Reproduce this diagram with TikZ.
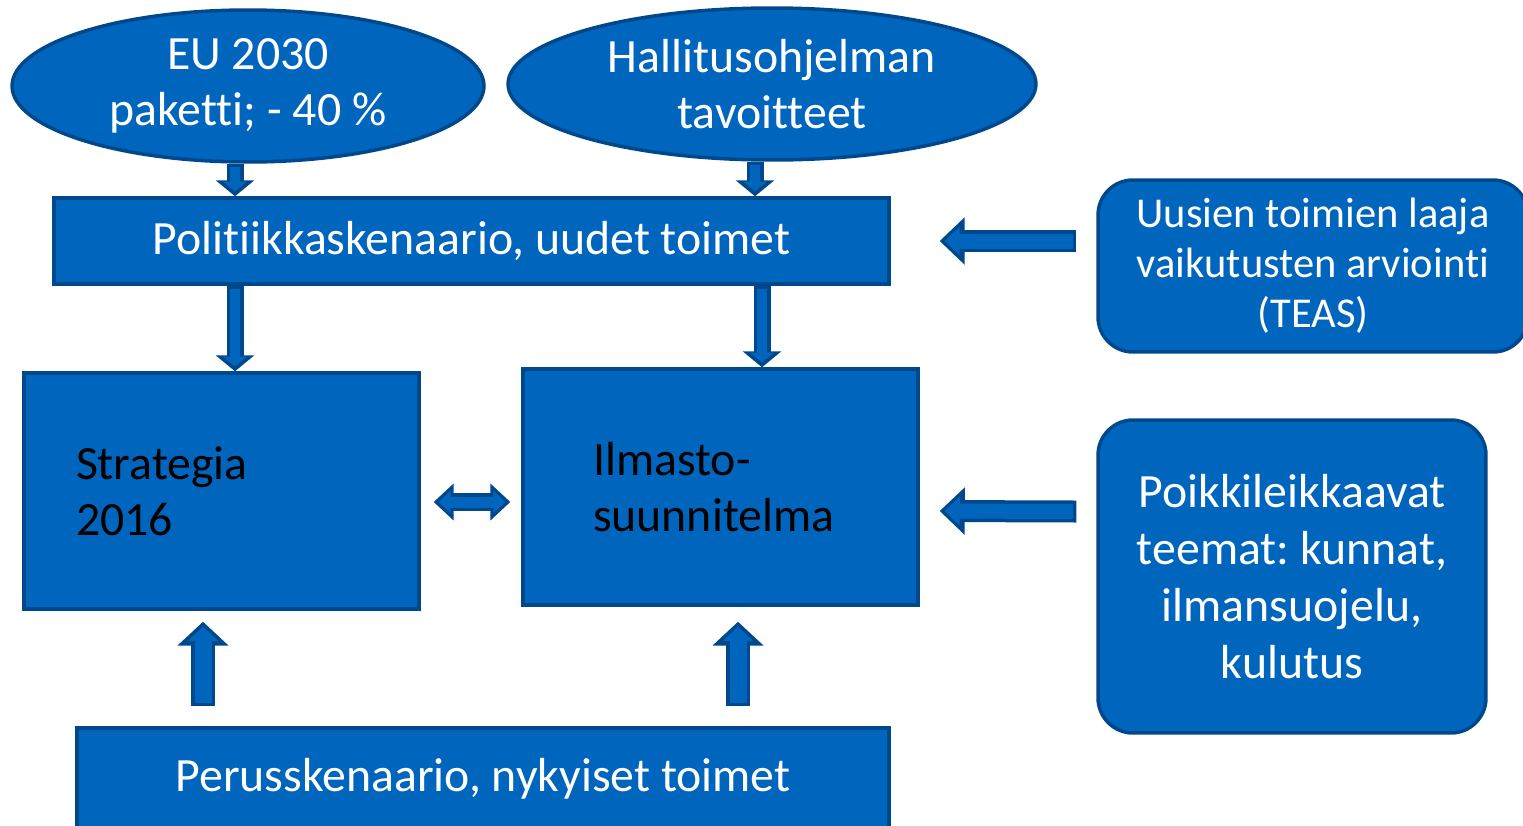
\documentclass[tikz,border=0pt]{standalone}
\usepackage{fontspec}
\setmainfont{Carlito}[Ligatures=NoCommon]
\usetikzlibrary{shapes.geometric,arrows.meta,calc}
\frenchspacing

\definecolor{boxblue}{RGB}{0,101,189}
\definecolor{edgeblue}{RGB}{0,72,140}

\tikzset{
  bubble/.style={ellipse, draw=edgeblue, fill=boxblue, line width=0.07cm, text=white, align=center, inner sep=0pt},
  box/.style={rectangle, draw=edgeblue, fill=boxblue, line width=0.07cm},
  roundbox/.style={box, rounded corners=0.7cm, text=white, align=center},
  fatarrow/.style n args={3}{draw=edgeblue, line width=#1, -{Triangle[width=#2,length=#3]},
    postaction={draw=boxblue, line width=#1-0.14cm, shorten <=0.07cm, shorten >=0.1cm, -{Triangle[width=#2,length=#3,scale=0.6]}}},
  fatboth/.style n args={3}{draw=edgeblue, line width=#1, {Triangle[width=#2,length=#3]}-{Triangle[width=#2,length=#3]},
    postaction={draw=boxblue, line width=#1-0.14cm, shorten <=0.1cm, shorten >=0.1cm, {Triangle[width=#2,length=#3,scale=0.6]}-{Triangle[width=#2,length=#3,scale=0.6]}}}
}

\begin{document}
\begin{tikzpicture}[x=0.02cm, y=-0.02cm, font=\fontsize{27.2}{32}\selectfont]
  \useasboundingbox (0,0) rectangle (1523,825);

  % sources
  \node[bubble, minimum width=9.44cm, minimum height=3.04cm] (eu) at (248,86) {EU 2030\\paketti; - 40 \%};
  \node[bubble, minimum width=10.56cm, minimum height=3.04cm] (hallitus) at (772,84) {Hallitusohjelman\\tavoitteet};

  % scenarios and plans
  \node[box, text=white, minimum width=16.7cm, minimum height=1.72cm] (polit) at (471.5,241) {Politiikkaskenaario, uudet toimet};
  \node[box, minimum width=7.9cm, minimum height=4.72cm, text width=5.82cm, align=left] (strategia) at (221.5,491) {Strategia\\2016\\[-0.2cm]};
  \node[box, minimum width=7.9cm, minimum height=4.72cm, text width=5.1cm, align=left] (ilmasto) at (720.5,487) {Ilmasto-\\suunnitelma};
  \node[box, text=white, minimum width=16.24cm, minimum height=2.04cm] (perus) at (483,779) {Perusskenaario, nykyiset toimet};

  % side inputs
  \node[roundbox, minimum width=8.6cm, minimum height=3.44cm, font=\fontsize{24.2}{28.5}\selectfont] (uusien) at (1313,266) {Uusien toimien laaja\\vaikutusten arviointi\\(TEAS)};
  \node[roundbox, minimum width=7.76cm, minimum height=6.26cm, font=\fontsize{27.2}{32.4}\selectfont] (poikki) at (1292,576.5) {Poikkileikkaavat\\teemat: kunnat,\\ilmansuojelu,\\kulutus};

  % arrows
  \draw[fatarrow={0.34cm}{0.76cm}{0.32cm}] (235,0 |- eu.south) -- (235,0 |- polit.north);
  \draw[fatarrow={0.34cm}{0.76cm}{0.32cm}] (755,0 |- hallitus.south) -- (755,0 |- polit.north);
  \draw[fatarrow={0.34cm}{0.76cm}{0.32cm}] (235,0 |- polit.south) -- (235,0 |- strategia.north);
  \draw[fatarrow={0.34cm}{0.76cm}{0.32cm}] (762,0 |- polit.south) -- (762,0 |- ilmasto.north);
  \draw[fatarrow={0.48cm}{1.0cm}{0.48cm}] ($(203,0 |- perus.north)+(0,-20)$) -- ($(203,0 |- strategia.south)+(0,11)$);
  \draw[fatarrow={0.48cm}{1.0cm}{0.48cm}] ($(738,0 |- perus.north)+(0,-20)$) -- ($(738,0 |- ilmasto.south)+(0,15)$);
  \draw[fatarrow={0.44cm}{0.92cm}{0.5cm}] ($(uusien.west |- polit)+(-20,0)$) -- ($(polit.east)+(49,0)$);
  \draw[fatarrow={0.44cm}{0.92cm}{0.5cm}] ($(poikki.west)+(-20,-65)$) -- ($(ilmasto.east)+(20,24)$);
  \draw[fatboth={0.36cm}{0.72cm}{0.4cm}] ($(strategia.east)+(13,11)$) -- ($(ilmasto.west)+(-11,15)$);
\end{tikzpicture}
\end{document}
